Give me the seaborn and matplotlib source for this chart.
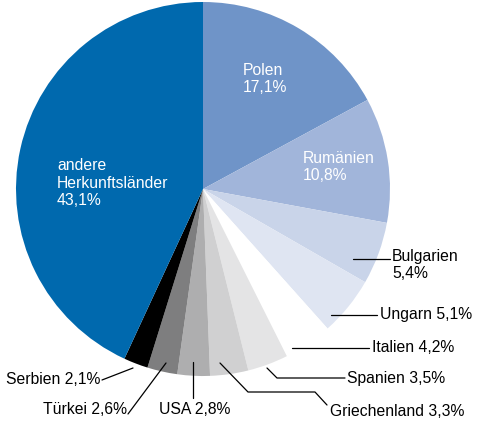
import matplotlib
matplotlib.use("Agg")
import matplotlib.pyplot as plt
import seaborn as sns

sns.set_style("white")
plt.rcParams["font.family"] = ["Liberation Sans", "DejaVu Sans"]

# Anteile in Prozent, im Uhrzeigersinn ab 12 Uhr
laender = ["Polen", "Rumänien", "Bulgarien", "Ungarn", "Italien", "Spanien",
           "Griechenland", "USA", "Türkei", "Serbien", "andere\nHerkunftsländer"]
anteile = [17.1, 10.8, 5.4, 5.1, 4.2, 3.5, 3.3, 2.8, 2.6, 2.1, 43.1]
farben = ["#6f94c8", "#a1b5da", "#c9d4e9", "#dfe5f2", "#ffffff", "#e4e4e5",
          "#d0d0d1", "#aeaeaf", "#7e7e7f", "#000000", "#0069ae"]

fig = plt.figure(figsize=(4.85, 4.30), dpi=100)
# Kreismitte bei ca. (203, 189) px, Radius ca. 187 px
cx, cy, r = 203, 189, 187
ax = fig.add_axes([(cx - r) / 485, (430 - cy - r) / 430, 2 * r / 485, 2 * r / 430])
ax.pie(anteile, colors=farben, startangle=90, counterclock=False,
       wedgeprops=dict(linewidth=0), radius=1)
ax.set_xlim(-1, 1)
ax.set_ylim(-1, 1)
ax.set_aspect("auto")
ax.axis("off")


def pt(px, py):
    # Pixel -> Datenkoordinaten
    return (px - cx) / r, (cy - py) / r


def fmt(v):
    return f"{v:.1f}".replace(".", ",") + "%"


fs = 11.3

# Beschriftungen im Kreis (weiß)
innen = {0: (243, 79), 1: (303, 167), 10: (57, 183)}
for i, (px, py) in innen.items():
    x, y = pt(px, py)
    ax.text(x, y, f"{laender[i]}\n{fmt(anteile[i])}", color="white", fontsize=fs,
            ha="left", va="center", linespacing=1.2)

# Beschriftungen außen mit Linien
aussen = [
    (2, [(353, 259), (390, 259)], (392, 265), "left", True),
    (3, [(331, 315), (377, 315)], (380, 315), "left", False),
    (4, [(292, 348), (369, 348)], (372, 348), "left", False),
    (5, [(267, 368), (277, 378), (345, 378)], (347, 378), "left", False),
    (6, [(220, 363), (248, 392), (315, 392), (327, 405)], (330, 411), "left", False),
    (7, [(193, 362), (193, 398)], (195, 410), "center", False),
    (8, [(166, 363), (128, 414)], (127, 410), "right", False),
    (9, [(133, 368), (102, 380)], (100, 380), "right", False),
]
for i, linie, (tx, ty), ha, umbruch in aussen:
    xs, ys = zip(*[pt(px, py) for px, py in linie])
    ax.plot(xs, ys, color="black", lw=0.9, clip_on=False)
    trenn = "\n" if umbruch else " "
    x, y = pt(tx, ty)
    ax.text(x, y, f"{laender[i]}{trenn}{fmt(anteile[i])}", color="black",
            fontsize=fs, ha=ha, va="center", linespacing=1.15)

fig.savefig("out.png", dpi=100)
